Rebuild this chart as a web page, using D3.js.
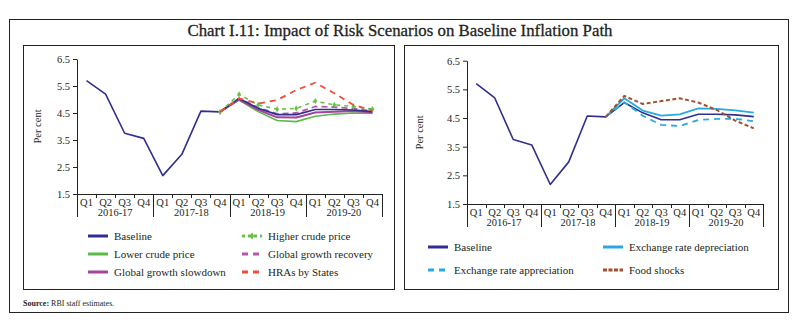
<!DOCTYPE html>
<html>
<head>
<meta charset="utf-8">
<script src="https://cdn.jsdelivr.net/npm/d3@7"></script>
<style>
  body { margin: 0; background: #fff; }
  svg { display: block; }
  svg text { font-family: "Liberation Serif", "DejaVu Serif", serif; }
</style>
</head>
<body>
<svg id="chart" width="799" height="321"></svg>
<script>
// ---- data ----
const quarters = ["Q1", "Q2", "Q3", "Q4", "Q1", "Q2", "Q3", "Q4", "Q1", "Q2", "Q3", "Q4", "Q1", "Q2", "Q3", "Q4"];
const years = ["2016-17", "2017-18", "2018-19", "2019-20"];
const yTicks = [1.5, 2.5, 3.5, 4.5, 5.5, 6.5];

const baseline = [5.70, 5.20, 3.75, 3.56, 2.18, 2.97, 4.57, 4.54, 5.04, 4.68, 4.44, 4.44, 4.63, 4.63, 4.61, 4.55];

// left panel scenarios
const lowerCrude     = [null, null, null, null, null, null, null, 4.54, 4.98, 4.55, 4.22, 4.18, 4.38, 4.46, 4.50, 4.49];
const higherCrude    = [null, null, null, null, null, null, null, 4.54, 5.19, 4.80, 4.64, 4.67, 4.94, 4.80, 4.74, 4.64];
const growthRecovery = [null, null, null, null, null, null, null, 4.54, 5.04, 4.70, 4.47, 4.50, 4.74, 4.72, 4.66, 4.57];
const growthSlowdown = [null, null, null, null, null, null, null, 4.54, 5.00, 4.62, 4.34, 4.33, 4.52, 4.55, 4.57, 4.52];
const hraStates      = [null, null, null, null, null, null, null, 4.54, 5.04, 4.85, 4.98, 5.35, 5.62, 5.23, 4.80, 4.59];

// right panel scenarios
const rateDepreciation = [null, null, null, null, null, null, null, 4.54, 5.19, 4.76, 4.58, 4.63, 4.84, 4.82, 4.77, 4.69];
const rateAppreciation = [null, null, null, null, null, null, null, 4.54, 5.05, 4.58, 4.26, 4.22, 4.43, 4.47, 4.47, 4.39];
const foodShocks       = [null, null, null, null, null, null, null, 4.54, 5.27, 4.99, 5.09, 5.19, 5.04, 4.78, 4.41, 4.14];

// ---- styles ----
const NAVY = "#2e2f8f";
const TEXT = "#231f20";
const FONT = "'Liberation Serif', 'DejaVu Serif', serif";

const leftSeries = [
  { name: "Lower crude price", values: lowerCrude, color: "#5db948", width: 1.6, dash: null, col: 0, row: 1 },
  { name: "Global growth slowdown", values: growthSlowdown, color: "#a4449c", width: 2, dash: null, col: 0, row: 2 },
  { name: "Global growth recovery", values: growthRecovery, color: "#b05aa8", width: 1.8, dash: "6,4", legendDash: "6,5", col: 1, row: 1 },
  { name: "Baseline", values: baseline, color: NAVY, width: 1.6, dash: null, col: 0, row: 0 },
  { name: "Higher crude price", values: higherCrude, color: "#6cc04a", width: 1.6, dash: "4,4", legendDash: "3,3", marker: true, col: 1, row: 0 },
  { name: "HRAs by States", values: hraStates, color: "#f04e37", width: 1.8, dash: "6,5", legendDash: "6,5", col: 1, row: 2 }
];

const rightSeries = [
  { name: "Baseline", values: baseline, color: NAVY, width: 1.6, dash: null, col: 0, row: 0 },
  { name: "Exchange rate appreciation", values: rateAppreciation, color: "#27aae1", width: 1.8, dash: "6,5", legendDash: "6,5", col: 0, row: 1 },
  { name: "Exchange rate depreciation", values: rateDepreciation, color: "#27aae1", width: 1.8, dash: null, col: 1, row: 0 },
  { name: "Food shocks", values: foodShocks, color: "#a0522d", width: 2, dash: "4,2.5", legendDash: "4,1.5", col: 1, row: 1 }
];

const svg = d3.select("#chart");

// frames
svg.append("rect")
  .attr("x", 9.5).attr("y", 19.5).attr("width", 779).attr("height", 293)
  .attr("fill", "none").attr("stroke", "#222").attr("stroke-width", 1);

svg.append("text")
  .attr("x", 400).attr("y", 36)
  .attr("text-anchor", "middle")
  .attr("textLength", 425).attr("lengthAdjust", "spacingAndGlyphs")
  .style("font-family", FONT)
  .style("font-size", "17px")
  .style("fill", TEXT)
  .style("stroke", TEXT)
  .style("stroke-width", 0.3)
  .text("Chart I.11: Impact of Risk Scenarios on Baseline Inflation Path");

const source = svg.append("text")
  .attr("x", 23).attr("y", 306)
  .style("font-family", FONT)
  .style("font-size", "8px")
  .style("fill", TEXT);
source.append("tspan").style("font-weight", "bold").text("Source: ");
source.append("tspan").text("RBI staff estimates.");

function drawPanel(cfg, series) {
  const g = svg.append("g");

  g.append("rect")
    .attr("x", cfg.box[0] + 0.5).attr("y", cfg.box[1] + 0.5)
    .attr("width", cfg.box[2]).attr("height", cfg.box[3])
    .attr("fill", "none").attr("stroke", "#222").attr("stroke-width", 1);

  const x = d3.scaleBand().domain(d3.range(quarters.length)).range([cfg.x0, cfg.x1]);
  const y = d3.scaleLinear().domain([1.5, 6.5]).range([cfg.yBot, cfg.yTop]);
  const cx = i => x(i) + x.bandwidth() / 2;

  // Y axis
  const yAxis = g.append("g")
    .attr("transform", `translate(${cfg.x0},0)`)
    .call(d3.axisLeft(y).tickValues(yTicks).tickFormat(d3.format(".1f")).tickSize(4).tickSizeOuter(0).tickPadding(3));
  yAxis.selectAll("text").style("font-size", "10.5px").style("font-family", FONT).style("fill", TEXT);
  yAxis.selectAll("line, path").attr("stroke", "#222");

  // X axis, quarter labels
  const xAxis = g.append("g")
    .attr("transform", `translate(0,${cfg.yBot})`)
    .call(d3.axisBottom(x).tickSize(0).tickPadding(5).tickFormat(i => quarters[i]));
  xAxis.selectAll("text").style("font-size", "10.5px").style("font-family", FONT).style("fill", TEXT);
  xAxis.select("path").attr("stroke", "#222");

  // quarter boundary ticks and year separators
  const step = x.step();
  d3.range(quarters.length + 1).forEach(i => {
    const xx = Math.round(cfg.x0 + i * step) + 0.5;
    const long = i % 4 === 0;
    g.append("line")
      .attr("x1", xx).attr("x2", xx)
      .attr("y1", cfg.yBot).attr("y2", cfg.yBot + (long ? 23 : 4))
      .attr("stroke", "#222").attr("stroke-width", 1);
  });

  // year labels
  g.selectAll(".year").data(years).enter().append("text")
    .attr("x", (d, i) => cfg.x0 + (i * 4 + 2) * step)
    .attr("y", cfg.yBot + 22)
    .attr("text-anchor", "middle")
    .style("font-family", FONT)
    .style("font-size", "10.5px")
    .style("fill", TEXT)
    .text(d => d);

  // Y title
  g.append("text")
    .attr("transform", `translate(${cfg.titleX},${(cfg.yTop + cfg.yBot) / 2}) rotate(-90)`)
    .attr("text-anchor", "middle")
    .style("font-family", FONT)
    .style("font-size", "10.5px")
    .style("fill", TEXT)
    .text("Per cent");

  // lines
  const line = d3.line()
    .defined(d => d != null)
    .x((d, i) => cx(i))
    .y(d => y(d));

  series.forEach(s => {
    g.append("path")
      .datum(s.values)
      .attr("d", line)
      .attr("fill", "none")
      .attr("stroke", s.color)
      .attr("stroke-width", s.width)
      .attr("stroke-dasharray", s.dash)
      .attr("stroke-linejoin", "round");

    if (s.marker) {
      g.selectAll(null)
        .data(s.values.map((v, i) => ({ v, i })).filter(d => d.v != null))
        .enter().append("path")
        .attr("d", d3.symbol(d3.symbolDiamond, 12))
        .attr("transform", d => `translate(${cx(d.i)},${y(d.v)})`)
        .attr("fill", s.color);
    }
  });

  // legend
  series.forEach(s => {
    const lx = cfg.legendCols[s.col];
    const ly = cfg.legendY + s.row * cfg.legendStep;
    const lg = g.append("g").attr("transform", `translate(${lx},${ly})`);
    lg.append("line")
      .attr("x1", 0).attr("x2", 20).attr("y1", 0).attr("y2", 0)
      .attr("stroke", s.color)
      .attr("stroke-width", 3)
      .attr("stroke-dasharray", s.legendDash || null);
    if (s.marker) {
      lg.append("path").attr("d", d3.symbol(d3.symbolDiamond, 16)).attr("transform", "translate(10,0)").attr("fill", s.color);
    }
    lg.append("text")
      .attr("x", 26).attr("y", 4)
      .style("font-family", FONT)
      .style("font-size", "11px")
      .style("fill", TEXT)
      .text(s.name);
  });
}

drawPanel({
  box: [23, 45, 371, 244],
  x0: 77, x1: 382, yTop: 59, yBot: 194,
  titleX: 41,
  legendCols: [88, 242], legendY: 236, legendStep: 18
}, leftSeries);

drawPanel({
  box: [404, 45, 374, 244],
  x0: 467, x1: 763, yTop: 60.7, yBot: 204,
  titleX: 423,
  legendCols: [428, 603], legendY: 247, legendStep: 23
}, rightSeries);
</script>
</body>
</html>
